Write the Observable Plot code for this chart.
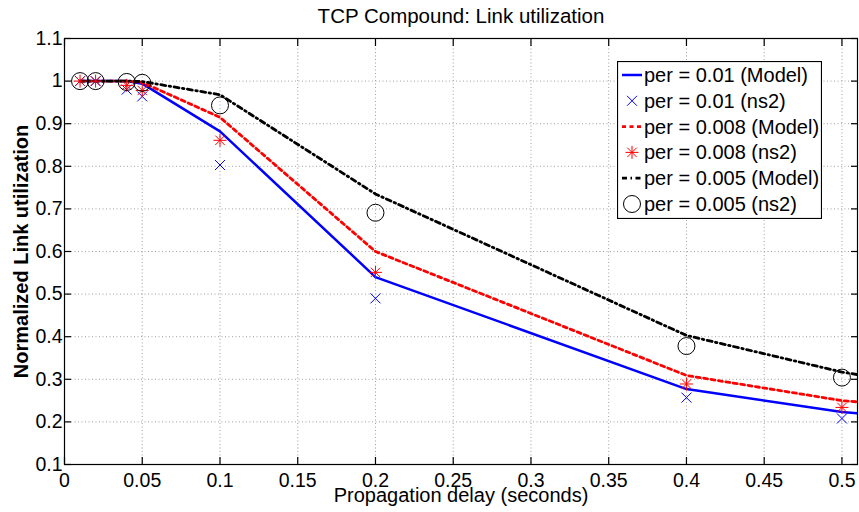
<!DOCTYPE html>
<html><head><meta charset="utf-8">
<script src="https://cdn.jsdelivr.net/npm/d3@7"></script>
<script src="https://cdn.jsdelivr.net/npm/@observablehq/plot@0.6"></script>
<style>
body{margin:0;background:#fff;}
#wrap{position:relative;width:859px;height:512px;font-family:"Liberation Sans",Arial,Helvetica,sans-serif;}
#legend{position:absolute;left:617px;top:61px;}
</style></head><body><div id="wrap"></div>
<script>
// ---- data ----
const delays = [0.01, 0.02, 0.04, 0.05, 0.1, 0.2, 0.4, 0.5];
const modelDelays = [0.01, 0.02, 0.04, 0.05, 0.1, 0.2, 0.4, 0.5, 0.51];
const model001 = [1, 1, 1, 0.994, 0.882, 0.540, 0.277, 0.223, 0.220];
const model0008 = [1, 1, 1, 0.997, 0.915, 0.600, 0.309, 0.250, 0.247];
const model0005 = [1, 1, 1, 0.999, 0.968, 0.735, 0.403, 0.317, 0.311];
const ns2_001 = [1, 1, 0.980, 0.964, 0.803, 0.490, 0.257, 0.208];
const ns2_0008 = [1, 1, 0.990, 0.978, 0.861, 0.551, 0.289, 0.234];
const ns2_0005 = [1, 1, 0.998, 0.996, 0.943, 0.691, 0.378, 0.304];
const xTicks = [0, 0.05, 0.1, 0.15, 0.2, 0.25, 0.3, 0.35, 0.4, 0.45, 0.5];
const yTicks = [0.1, 0.2, 0.3, 0.4, 0.5, 0.6, 0.7, 0.8, 0.9, 1, 1.1];
const legendLabels = ["per = 0.01 (Model)", "per = 0.01 (ns2)", "per = 0.008 (Model)", "per = 0.008 (ns2)", "per = 0.005 (Model)", "per = 0.005 (ns2)"];
const titleText = "TCP Compound: Link utilization";
const xLabel = "Propagation delay (seconds)";
const yLabel = "Normalized Link utilization";

// ---- styles ----
const BLUE = "#0000ff", RED = "#ff0000", BLACK = "#000000";
const timesSym = {draw(ctx, size) { const r = Math.sqrt(size / Math.PI); ctx.moveTo(-r, -r); ctx.lineTo(r, r); ctx.moveTo(r, -r); ctx.lineTo(-r, r); }};
const starSym = {draw(ctx, size) { const r = Math.sqrt(size / Math.PI); const d = r * 0.72;
  ctx.moveTo(0, -r); ctx.lineTo(0, r); ctx.moveTo(-r, 0); ctx.lineTo(r, 0);
  ctx.moveTo(-d, -d); ctx.lineTo(d, d); ctx.moveTo(d, -d); ctx.lineTo(-d, d); }};

const mk = (xs, ys) => xs.map((x, i) => ({x, y: ys[i]}));
const lineStyles = [
  {data: mk(modelDelays, model001), stroke: BLUE, strokeWidth: 2.5, dash: null},
  {data: mk(modelDelays, model0008), stroke: RED, strokeWidth: 2.8, dash: "4,3.5"},
  {data: mk(modelDelays, model0005), stroke: BLACK, strokeWidth: 2.8, dash: "5,3.5,1.5,3.5"}
];
const pts001 = mk(delays, ns2_001), pts0008 = mk(delays, ns2_0008), pts0005 = mk(delays, ns2_0005);

const FONT = '"Liberation Sans", Arial, Helvetica, sans-serif';
const fmt = d => String(d);
const chart = Plot.plot({
  width: 859, height: 512,
  marginLeft: 64, marginRight: 2, marginTop: 38, marginBottom: 48,
  style: {fontFamily: FONT, fontSize: "19.5px", background: "#fff", color: "#000"},
  x: {domain: [0, 0.51], axis: null},
  y: {domain: [0.1, 1.1], axis: null},
  marks: [
    Plot.gridX(xTicks, {stroke: "#a0a0a0", strokeOpacity: 1, strokeDasharray: "1,2.5"}),
    Plot.gridY(yTicks, {stroke: "#a0a0a0", strokeOpacity: 1, strokeDasharray: "1,2.5"}),
    ...lineStyles.map(s => Plot.line(s.data, {x: "x", y: "y", stroke: s.stroke, strokeWidth: s.strokeWidth, strokeDasharray: s.dash, clip: true})),
    Plot.dot(pts001, {x: "x", y: "y", symbol: timesSym, r: 5, stroke: BLUE, strokeWidth: 1, fill: "none"}),
    Plot.dot(pts0008, {x: "x", y: "y", symbol: starSym, r: 6.5, stroke: RED, strokeWidth: 1, fill: "none"}),
    Plot.dot(pts0005, {x: "x", y: "y", symbol: "circle", r: 8.5, stroke: BLACK, strokeWidth: 1, fill: "none"}),
    Plot.frame({stroke: "#000", strokeWidth: 1.2}),
    Plot.axisX(xTicks, {anchor: "bottom", label: null, tickSize: -7, tickFormat: () => "", strokeWidth: 1.2}),
    Plot.axisX(xTicks, {anchor: "top", label: null, tickSize: -7, tickFormat: () => "", strokeWidth: 1.2}),
    Plot.axisY(yTicks, {anchor: "left", label: null, tickSize: -7, tickFormat: () => "", strokeWidth: 1.2}),
    Plot.axisY(yTicks, {anchor: "right", label: null, tickSize: -7, tickFormat: () => "", strokeWidth: 1.2}),
    Plot.axisX(xTicks, {anchor: "bottom", label: null, tickSize: 0, tickPadding: 9, tickFormat: fmt, fontSize: 19.5}),
    Plot.axisY(yTicks, {anchor: "left", label: null, tickSize: 0, tickPadding: 2, tickFormat: fmt, fontSize: 19.5}),
    Plot.text([titleText], {frameAnchor: "top", lineAnchor: "middle", textAnchor: "middle", dy: -22, fontSize: 20.5, text: d => d}),
    Plot.text([xLabel], {frameAnchor: "bottom", lineAnchor: "middle", textAnchor: "middle", dy: 31, fontSize: 20, text: d => d}),
    Plot.text([yLabel], {frameAnchor: "left", lineAnchor: "middle", textAnchor: "middle", dx: -43, rotate: -90, fontSize: 20, fontWeight: "bold", text: d => d})
  ]
});
const wrap = document.getElementById("wrap");
wrap.appendChild(chart);

// ---- legend ----
const LW = 204, LH = 157, rowY0 = 14, rowGap = 25.8;
const leg = d3.select(wrap).append("svg").attr("id", "legend").attr("width", LW + 1).attr("height", LH + 1)
  .style("font-family", FONT).style("font-size", "20px");
leg.append("rect").attr("x", 0.5).attr("y", 0.5).attr("width", LW).attr("height", LH).attr("fill", "#fff").attr("stroke", "#000").attr("stroke-width", 1.2);
const entries = [
  {kind: "line", s: lineStyles[0]},
  {kind: "sym", sym: timesSym, r: 5, stroke: BLUE},
  {kind: "line", s: lineStyles[1]},
  {kind: "sym", sym: starSym, r: 6.5, stroke: RED},
  {kind: "line", s: lineStyles[2]},
  {kind: "sym", sym: d3.symbolCircle, r: 8.5, stroke: BLACK}
];
entries.forEach((e, i) => {
  const y = rowY0 + i * rowGap;
  if (e.kind === "line") {
    leg.append("line").attr("x1", 5).attr("x2", 25).attr("y1", y).attr("y2", y)
      .attr("stroke", e.s.stroke).attr("stroke-width", e.s.strokeWidth).attr("stroke-dasharray", e.s.dash);
  } else {
    const p = d3.path();
    if (e.sym === d3.symbolCircle) { p.arc(0, 0, e.r, 0, 2 * Math.PI); } else { e.sym.draw(p, e.r * e.r * Math.PI); }
    leg.append("path").attr("d", p.toString()).attr("transform", `translate(15,${y})`).attr("fill", "none").attr("stroke", e.stroke).attr("stroke-width", 1);
  }
  leg.append("text").attr("x", 27).attr("y", y).attr("dy", "0.35em").text(legendLabels[i]);
});
</script></body></html>
